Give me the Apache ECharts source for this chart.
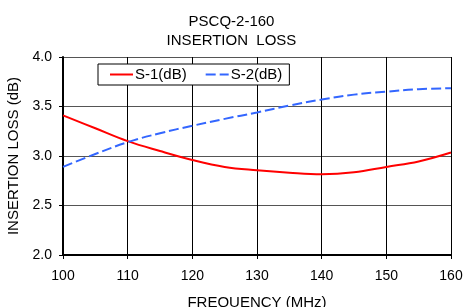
<!DOCTYPE html>
<html>
<head>
<meta charset="utf-8">
<script src="https://cdn.jsdelivr.net/npm/echarts@6/dist/echarts.min.js"></script>
<style>
  html, body { margin: 0; padding: 0; background: #fff; }
  #container { width: 463px; height: 307px; }
</style>
</head>
<body>
<div id="container"></div>
<script>
// frequency points (MHz)
var freq = [100, 105, 110, 115, 120, 125, 130, 135, 140, 145, 150, 155, 160];
// insertion loss (dB)
var s1 = [3.41, 3.28, 3.15, 3.05, 2.96, 2.89, 2.855, 2.83, 2.815, 2.835, 2.89, 2.945, 3.035];
var s2 = [2.89, 3.02, 3.14, 3.23, 3.305, 3.375, 3.44, 3.51, 3.57, 3.62, 3.65, 3.675, 3.685];
var seriesNames = ["S-1(dB)", "S-2(dB)"];
var titleLines = ["PSCQ-2-160", "INSERTION  LOSS"];

function pairs(xs, ys) {
    return xs.map(function (x, i) { return [x, ys[i]]; });
}

var font = "Liberation Sans, Arial, sans-serif";
var chart = echarts.init(document.getElementById("container"), null, { renderer: "canvas" });

chart.setOption({
    animation: false,
    title: {
        text: titleLines.join("\n"),
        left: "center",
        top: 7,
        textStyle: { fontFamily: font, fontSize: 15, fontWeight: "normal", color: "#000", lineHeight: 19 }
    },
    legend: {
        left: 98,
        top: 64,
        padding: [3, 7, 3, 11],
        itemGap: 18,
        itemWidth: 23,
        itemHeight: 10,
        backgroundColor: "#fff",
        borderColor: "#000",
        borderWidth: 1,
        borderRadius: 0,
        itemStyle: { opacity: 0 },
        textStyle: { fontFamily: font, fontSize: 15, color: "#000", padding: [0, 0, 0, -3] },
        data: seriesNames
    },
    grid: { left: 63, right: 12, top: 57, bottom: 52, containLabel: false, outerBoundsMode: "none" },
    xAxis: {
        type: "value",
        min: 100, max: 160, interval: 10,
        name: "FREQUENCY (MHz)",
        nameLocation: "middle",
        nameGap: 40,
        nameTextStyle: { fontFamily: font, fontSize: 15, color: "#000" },
        axisLine: { onZero: false, lineStyle: { color: "#000", width: 2 } },
        axisTick: { show: true, length: 4, lineStyle: { color: "#000" } },
        axisLabel: { fontFamily: font, fontSize: 14, color: "#000", margin: 14 },
        splitLine: { show: true, lineStyle: { color: "#000", width: 1 } }
    },
    yAxis: {
        type: "value",
        min: 2, max: 4, interval: 0.5,
        name: "INSERTION LOSS (dB)",
        nameLocation: "middle",
        nameGap: 41,
        nameTextStyle: { fontFamily: font, fontSize: 15, color: "#000" },
        axisLine: { show: true, lineStyle: { color: "#000", width: 2 } },
        axisTick: { show: true, length: 4, lineStyle: { color: "#000" } },
        axisLabel: {
            fontFamily: font, fontSize: 14, color: "#000", margin: 11,
            formatter: function (v) { return v.toFixed(1); }
        },
        splitLine: { show: true, lineStyle: { color: "#555", width: 1 } }
    },
    series: [
        {
            name: seriesNames[0],
            type: "line",
            data: pairs(freq, s1),
            smooth: 0.4,
            symbol: "none",
            lineStyle: { color: "#ff0000", width: 2 },
            itemStyle: { color: "#ff0000" }
        },
        {
            name: seriesNames[1],
            type: "line",
            data: pairs(freq, s2),
            smooth: 0.4,
            symbol: "none",
            lineStyle: { color: "#3366ff", width: 2, type: [10, 4] },
            itemStyle: { color: "#3366ff" }
        }
    ]
});
</script>
</body>
</html>
